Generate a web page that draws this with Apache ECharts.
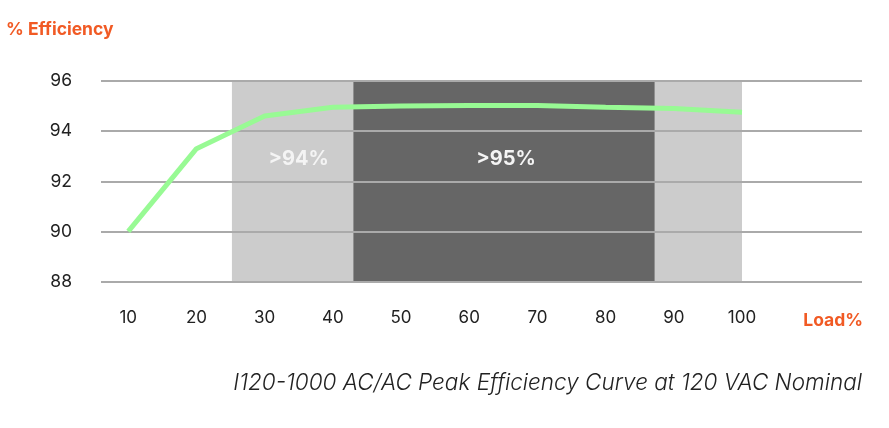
<!DOCTYPE html>
<html><head><meta charset="utf-8">
<script src="https://cdn.jsdelivr.net/npm/echarts@6/dist/echarts.min.js"></script>
<style>html,body{margin:0;padding:0;background:#fff}#c{width:889px;height:428px}</style>
</head><body><div id="c"></div>
<script>
const loadPct = [10, 20, 30, 40, 50, 60, 70, 80, 90, 100];
const efficiency = [90.0, 93.3, 94.6, 94.95, 95.0, 95.02, 95.02, 94.95, 94.9, 94.75];
const band94Left = [25.2, 43];
const band94Right = [87.2, 100];
const band95 = [43, 87.2];
const band94Label = '>94%';
const band95Label = '>95%';
const yTitle = '% Efficiency';
const xTitle = 'Load%';
const caption = 'I120-1000 AC/AC Peak Efficiency Curve at 120 VAC Nominal';

const FONT = 'Inter, "Open Sans", sans-serif';
const ORANGE = '#f15a24';
const chart = echarts.init(document.getElementById('c'), null, {renderer: 'canvas'});
const bandLabel = (txt, dx) => ({
  show: !!txt, formatter: txt, position: 'insideTop', distance: 68, offset: [dx || 0, 0],
  color: '#f4f4f4', fontSize: 20, fontWeight: 'bold', fontFamily: FONT
});
chart.setOption({
  animation: false,
  backgroundColor: '#ffffff',
  title: [
    {text: yTitle, left: 1, top: 16, textStyle: {color: ORANGE, fontSize: 17.5, fontWeight: 'bold', fontFamily: FONT}},
    {text: xTitle, right: 21, top: 307, textStyle: {color: ORANGE, fontSize: 17.5, fontWeight: 'bold', fontFamily: FONT}},
    {text: caption, right: 22, top: 367, textStyle: {color: '#222222', fontSize: 22.5, fontWeight: 300, fontStyle: 'italic', fontFamily: FONT}}
  ],
  grid: {left: 101, right: 27, top: 81, bottom: 146.5, containLabel: false},
  xAxis: {
    type: 'value', min: 6, max: 117.6,
    axisLine: {show: false}, axisTick: {show: false}, splitLine: {show: false},
    axisLabel: {customValues: loadPct, margin: 28, fontSize: 17, color: '#222', fontFamily: FONT}
  },
  yAxis: {
    type: 'value', min: 88, max: 96, interval: 2, z: 2,
    axisLine: {show: false}, axisTick: {show: false},
    splitLine: {show: true, lineStyle: {color: '#aaaaaa', width: 2}},
    axisLabel: {margin: 29, fontSize: 17.5, color: '#222', fontFamily: FONT}
  },
  series: [{
    type: 'line', z: 5, clip: false,
    data: loadPct.map((x, i) => [x, efficiency[i]]),
    symbol: 'none',
    lineStyle: {color: '#98fa94', width: 5},
    markArea: {
      silent: true, z: 1,
      data: [
        [{xAxis: band94Left[0], yAxis: 96, itemStyle: {color: '#cccccc'}, label: bandLabel(band94Label, 6)}, {xAxis: band94Left[1], yAxis: 88}],
        [{xAxis: band94Right[0], yAxis: 96, itemStyle: {color: '#cccccc'}, label: bandLabel('')}, {xAxis: band94Right[1], yAxis: 88}],
        [{xAxis: band95[0], yAxis: 96, itemStyle: {color: '#666666'}, label: bandLabel(band95Label, 2)}, {xAxis: band95[1], yAxis: 88}]
      ]
    }
  }]
});
</script></body></html>
